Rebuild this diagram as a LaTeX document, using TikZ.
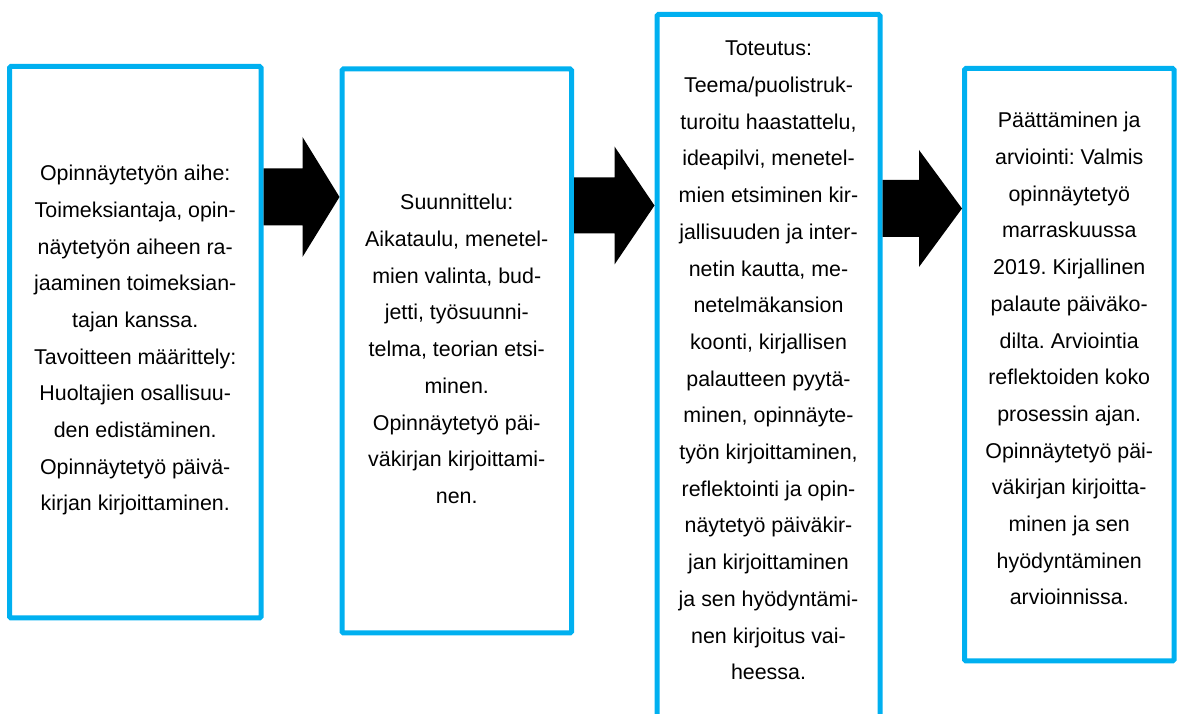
\documentclass[tikz,border=0pt]{standalone}
\usepackage{fontspec}
\setmainfont{Liberation Sans}
\usetikzlibrary{calc}
\definecolor{boxblue}{HTML}{00B0F0}
\frenchspacing
\newcommand\blockarrow[6]{% from, to, y centre, shaft half width, head half width, head length
  \fill[blockarrow] let \p1=(#1.east), \p2=(#2.west), \n1={\x2-#6pt} in
    (\x1,{#3+#4}) -- (\n1,{#3+#4}) -- (\n1,{#3+#5}) -- (\x2,#3)
    -- (\n1,{#3-#5}) -- (\n1,{#3-#4}) -- (\x1,{#3-#4}) -- cycle;}
\begin{document}
\begin{tikzpicture}[x=1pt,y=1pt,
  box/.style={draw=boxblue, line width=5pt, rounded corners=1.5pt, fill=white,
    inner sep=0pt, outer sep=2.5pt},
  txt/.style={align=center, inner sep=0pt, anchor=north,
    font=\fontsize{21.4}{36.7}\selectfont\frenchspacing, text=black},
  blockarrow/.style={fill=black}]
\useasboundingbox (0,0) rectangle (1177,714);
\begin{scope}
\clip (0,0) rectangle (1177,714);
\node[box, minimum width=251.5pt, minimum height=551.5pt] (b1) at (135.25,371.75) {};
\node[box, minimum width=229.5pt, minimum height=564pt] (b2) at (456.75,363) {};
\node[box, minimum width=223pt, minimum height=725.5pt] (b3) at (768.5,336.75) {};
\node[box, minimum width=209.5pt, minimum height=592.5pt] (b4) at (1069.25,349.25) {};

\node[txt] (t1) at (b1.center |- 0,559.2) {\strut Opinnäytetyön aihe:\\
Toimeksiantaja, opin-\\
näytetyön aiheen ra-\\
jaaminen toimeksian-\\
tajan kanssa.\\
Tavoitteen määrittely:\\
Huoltajien osallisuu-\\
den edistäminen.\\
Opinnäytetyö päivä-\\
kirjan kirjoittaminen.};

\node[txt] (t2) at (b2.center |- 0,530) {\strut Suunnittelu:\\
Aikataulu, menetel-\\
mien valinta, bud-\\
jetti, työsuunni-\\
telma, teorian etsi-\\
minen.\\
Opinnäytetyö päi-\\
väkirjan kirjoittami-\\
nen.};

\node[txt] (t3) at (b3.center |- 0,684) {\strut Toteutus:\\
Teema/puolistruk-\\
turoitu haastattelu,\\
ideapilvi, menetel-\\
mien etsiminen kir-\\
jallisuuden ja inter-\\
netin kautta, me-\\
netelmäkansion\\
koonti, kirjallisen\\
palautteen pyytä-\\
minen, opinnäyte-\\
työn kirjoittaminen,\\
reflektointi ja opin-\\
näytetyö päiväkir-\\
jan kirjoittaminen\\
ja sen hyödyntämi-\\
nen kirjoitus vai-\\
heessa.};

\node[txt] (t4) at (b4.center |- 0,612) {\strut Päättäminen ja\\
arviointi: Valmis\\
opinnäytetyö\\
marraskuussa\\
2019. Kirjallinen\\
palaute päiväko-\\
dilta. Arviointia\\
reflektoiden koko\\
prosessin ajan.\\
Opinnäytetyö päi-\\
väkirjan kirjoitta-\\
minen ja sen\\
hyödyntäminen\\
arvioinnissa.};

\blockarrow{b1}{b2}{517}{28.5}{60}{37}
\blockarrow{b2}{b3}{508.5}{28}{59}{40}
\blockarrow{b3}{b4}{505.5}{28.5}{58.5}{43}
\end{scope}
\end{tikzpicture}
\end{document}
